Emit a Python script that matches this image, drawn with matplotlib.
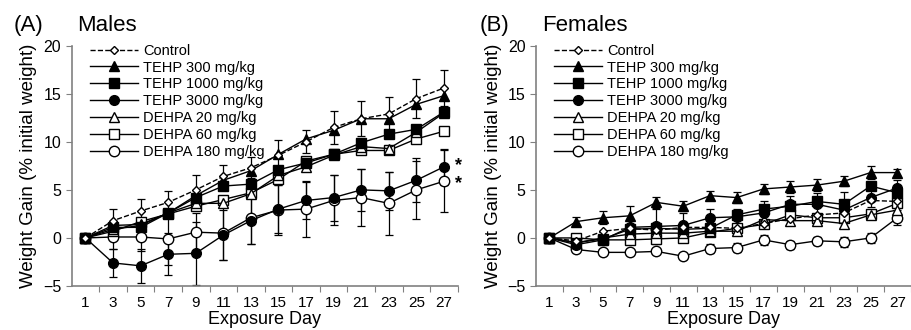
import numpy as np
import matplotlib
matplotlib.use("Agg")
import matplotlib.pyplot as plt

plt.rcParams['font.family'] = ['Liberation Sans', 'DejaVu Sans']

days = [1, 3, 5, 7, 9, 11, 13, 15, 17, 19, 21, 23, 25, 27]
labels = ["Control", "TEHP 300 mg/kg", "TEHP 1000 mg/kg", "TEHP 3000 mg/kg",
          "DEHPA 20 mg/kg", "DEHPA 60 mg/kg", "DEHPA 180 mg/kg"]

# Males (% initial weight)
m_control = [0, 1.8, 2.8, 3.7, 5.0, 6.4, 7.3, 8.6, 10.0, 11.5, 12.4, 12.9, 14.5, 15.6]
m_tehp300 = [0, 1.3, 1.4, 2.6, 4.4, 6.0, 7.0, 8.7, 10.3, 11.2, 12.4, 12.4, 13.9, 14.8]
m_tehp1000 = [0, 1.1, 1.1, 2.6, 4.2, 5.4, 5.6, 7.1, 7.8, 8.7, 9.9, 10.8, 11.3, 13.1]
m_tehp3000 = [0, -2.6, -2.9, -1.7, -1.6, 0.3, 1.8, 3.0, 3.9, 4.2, 5.0, 4.9, 6.0, 7.4]
m_dehpa20 = [0, 0.9, 1.3, 2.6, 3.6, 3.6, 4.6, 6.5, 7.4, 8.6, 9.5, 9.3, 11.0, 13.0]
m_dehpa60 = [0, 0.7, 1.7, 2.5, 3.3, 4.0, 4.7, 6.1, 8.0, 8.7, 9.1, 9.1, 10.3, 11.1]
m_dehpa180 = [0, 0.1, 0.1, -0.1, 0.6, 0.5, 2.1, 2.9, 3.0, 3.9, 4.2, 3.6, 5.0, 5.9]
m_control_err = [0, 1.2, 1.3, 1.2, 1.5, 1.2, 1.1, 1.6, 1.2, 1.7, 1.8, 1.8, 2.0, 1.9]
m_tehp3000_err = [0, 1.5, 1.8, 2.2, 3.3, 2.6, 2.4, 2.5, 1.9, 2.4, 2.2, 2.0, 2.3, 1.9]
m_dehpa180_err = [0, 1.3, 1.5, 2.7, 2.0, 2.8, 2.7, 2.6, 2.9, 2.6, 3.0, 3.3, 3.0, 3.2]

# Females (% initial weight)
f_control = [0, -0.3, 0.7, 1.0, 0.8, 1.1, 1.1, 1.0, 1.5, 2.0, 2.4, 2.6, 3.9, 3.8]
f_tehp300 = [0, 1.7, 2.1, 2.3, 3.7, 3.3, 4.4, 4.2, 5.1, 5.3, 5.5, 5.9, 6.8, 6.8]
f_tehp1000 = [0, -0.5, -0.1, 0.9, 1.0, 0.9, 1.0, 2.4, 3.0, 3.3, 3.8, 3.5, 5.4, 4.7]
f_tehp3000 = [0, -0.7, -0.2, 1.1, 1.2, 1.3, 2.1, 2.2, 2.6, 3.5, 3.5, 2.9, 4.2, 5.2]
f_dehpa20 = [0, -0.5, 0.0, 0.4, 0.5, 0.5, 0.7, 0.7, 1.9, 1.8, 1.8, 1.5, 2.4, 2.9]
f_dehpa60 = [0, 0.0, -0.2, -0.2, -0.1, 0.0, 0.6, 1.0, 1.4, 2.4, 2.1, 2.1, 2.5, 3.6]
f_dehpa180 = [0, -1.2, -1.5, -1.5, -1.4, -1.9, -1.1, -1.0, -0.2, -0.7, -0.3, -0.4, 0.0, 2.1]
f_tehp300_err = [0, 0.5, 0.7, 1.0, 0.6, 0.5, 0.5, 0.6, 0.5, 0.6, 0.6, 0.5, 0.7, 0.4]
f_tehp3000_err = [0, 0.4, 0.5, 0.8, 1.8, 1.3, 0.9, 0.8, 1.2, 0.9, 1.2, 1.9, 1.0, 0.8]
f_dehpa180_err = [0, 0.3, 0.3, 0.3, 0.3, 0.3, 0.5, 0.5, 0.5, 0.4, 0.4, 0.5, 0.5, 0.8]

# marker, fill, linestyle, markersize per group
styles = [("D", "white", "--", 4.5), ("^", "black", "-", 6.5), ("s", "black", "-", 6.5),
          ("o", "black", "-", 7), ("^", "white", "-", 6.5), ("s", "white", "-", 7),
          ("o", "white", "-", 7.5)]


def draw_panel(ax, series, errors, letter, title, xmax):
    # error bars first so markers sit on top
    for idx, err in errors.items():
        ax.errorbar(days, series[idx], yerr=err, fmt="none", ecolor="black",
                    elinewidth=0.9, capsize=3, capthick=0.9, zorder=2)
    for i, (vals, lab) in enumerate(zip(series, labels)):
        mk, fc, ls, ms = styles[i]
        ax.plot(days, vals, marker=mk, markerfacecolor=fc, markeredgecolor="black",
                markersize=ms, color="black", linestyle=ls, linewidth=1.0,
                label=lab, zorder=3 + (7 - i) * 0.1)

    ax.set_xlim(0, xmax)
    ax.set_ylim(-5, 20)
    ax.set_yticks([-5, 0, 5, 10, 15, 20])
    ax.set_xticks(np.arange(2, 29, 2))
    ax.set_xticklabels([])
    ax.set_xticks(days, minor=True)
    ax.set_xticklabels([str(d) for d in days], minor=True)
    ax.tick_params(axis="x", which="major", direction="out", length=4, color="#808080")
    ax.tick_params(axis="x", which="minor", length=0, labelsize=11, pad=7)
    ax.tick_params(axis="y", direction="out", length=4, color="#808080", labelsize=11.5)
    for s in ["top", "right"]:
        ax.spines[s].set_visible(False)
    for s in ["left", "bottom"]:
        ax.spines[s].set_color("#808080")
        ax.spines[s].set_linewidth(1.2)
    ax.set_xlabel("Exposure Day", fontsize=13, labelpad=1)
    ax.set_ylabel("Weight Gain (% initial weight)", fontsize=13.5, labelpad=4)
    ax.legend(loc="upper left", bbox_to_anchor=(0.025, 1.045), frameon=False, fontsize=10.5,
              handlelength=3.3, handletextpad=0.35, labelspacing=0.2, borderaxespad=0.2)
    ax.text(-0.15, 1.04, letter, transform=ax.transAxes, fontsize=16, va="bottom")
    ax.text(0.015, 1.04, title, transform=ax.transAxes, fontsize=16, va="bottom")


fig = plt.figure(figsize=(9.11, 3.3), dpi=100)
ax_m = fig.add_axes([0.0787, 0.1333, 0.4237, 0.7282])
ax_f = fig.add_axes([0.5884, 0.1333, 0.4113, 0.7282])

draw_panel(ax_m, [m_control, m_tehp300, m_tehp1000, m_tehp3000, m_dehpa20, m_dehpa60, m_dehpa180],
           {0: m_control_err, 3: m_tehp3000_err, 6: m_dehpa180_err}, "(A)", "Males", 28)
draw_panel(ax_f, [f_control, f_tehp300, f_tehp1000, f_tehp3000, f_dehpa20, f_dehpa60, f_dehpa180],
           {1: f_tehp300_err, 3: f_tehp3000_err, 6: f_dehpa180_err}, "(B)", "Females", 27.35)

# significance marks for the two high doses in males
ax_m.text(27.8, m_tehp3000[-1] + 0.1, "*", fontsize=13, fontweight="bold", va="center", clip_on=False)
ax_m.text(27.8, m_dehpa180[-1] - 0.2, "*", fontsize=13, fontweight="bold", va="center", clip_on=False)

fig.savefig("out.png", dpi=100)
plt.close(fig)
